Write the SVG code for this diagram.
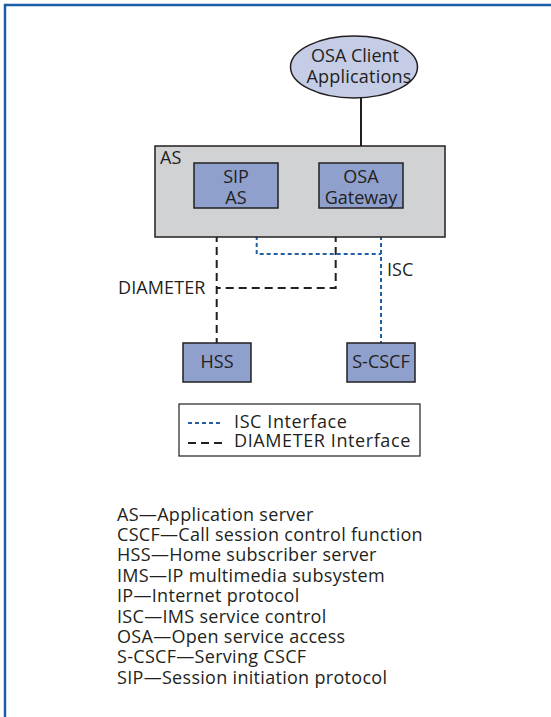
<svg xmlns="http://www.w3.org/2000/svg" width="551" height="717" viewBox="0 0 551 717">
<style>
text{font-family:"Open Sans","Noto Sans","Liberation Sans",sans-serif;fill:#231f20;font-size:18px}
.c{text-anchor:middle}
.box{fill:#8fa0cd;stroke:#231f20;stroke-width:1.5}
.dia{fill:none;stroke:#231f20;stroke-width:2;stroke-dasharray:8 5}
.isc{fill:none;stroke:#1f5fa8;stroke-width:2;stroke-dasharray:4 3}
.leg{letter-spacing:0.6px}
.ab{letter-spacing:0.3px}
</style>
<rect x="5" y="5" width="560" height="730" fill="#fff" stroke="#1a5ea8" stroke-width="2.5"/>
<g id="connectors">
<line x1="361" y1="98" x2="361" y2="163" stroke="#231f20" stroke-width="2"/>
<path class="dia" d="M216.7,208 V343"/>
<path class="dia" d="M335.7,208 V288 H216.7"/>
<path class="isc" d="M256.7,208 V254 H381"/>
<path class="isc" d="M381,208 V343"/>
<text x="118" y="294" style="letter-spacing:0.1px">DIAMETER</text>
<text x="387" y="276">ISC</text>
</g>
<g id="osa-client">
<ellipse cx="354" cy="67" rx="63.5" ry="31" fill="#c5cce6" stroke="#231f20" stroke-width="1.5"/>
<text class="c" x="355" y="62">OSA Client</text>
<text class="c" x="359" y="83" style="letter-spacing:0.2px">Applications</text>
</g>
<g id="as">
<rect x="155" y="146" width="290" height="91" fill="#d1d2d4" stroke="#231f20" stroke-width="1.5"/>
<text x="160" y="164">AS</text>
</g>
<g id="sip-as">
<rect class="box" x="194" y="163" width="84" height="45"/>
<text class="c" x="236" y="183">SIP</text>
<text class="c" x="236" y="204">AS</text>
</g>
<g id="osa-gateway">
<rect class="box" x="319" y="163" width="84" height="45"/>
<text class="c" x="361" y="183">OSA</text>
<text class="c" x="361" y="204">Gateway</text>
</g>
<g id="hss">
<rect class="box" x="183" y="343" width="68" height="39"/>
<text class="c" x="217" y="368">HSS</text>
</g>
<g id="s-cscf">
<rect class="box" x="347" y="343" width="68" height="39"/>
<text class="c" x="381" y="368">S-CSCF</text>
</g>
<g id="legend">
<rect x="179" y="404" width="241" height="52" fill="#fff" stroke="#231f20" stroke-width="1.2"/>
<line class="isc" x1="188" y1="423" x2="222" y2="423" stroke-dasharray="6 3.5"/>
<line class="dia" x1="188" y1="443" x2="222" y2="443" stroke-dasharray="9 4"/>
<text class="leg" x="234" y="427.5">ISC Interface</text>
<text class="leg" x="234" y="447">DIAMETER Interface</text>
</g>
<g id="abbreviations">
<text class="ab" x="117" y="520.5">AS—Application server</text>
<text class="ab" x="117" y="540.9">CSCF—Call session control function</text>
<text class="ab" x="117" y="561.3">HSS—Home subscriber server</text>
<text class="ab" x="117" y="581.7">IMS—IP multimedia subsystem</text>
<text class="ab" x="117" y="602.1">IP—Internet protocol</text>
<text class="ab" x="117" y="622.5">ISC—IMS service control</text>
<text class="ab" x="117" y="642.9">OSA—Open service access</text>
<text class="ab" x="117" y="663.3">S-CSCF—Serving CSCF</text>
<text class="ab" x="117" y="683.7">SIP—Session initiation protocol</text>
</g>
</svg>
